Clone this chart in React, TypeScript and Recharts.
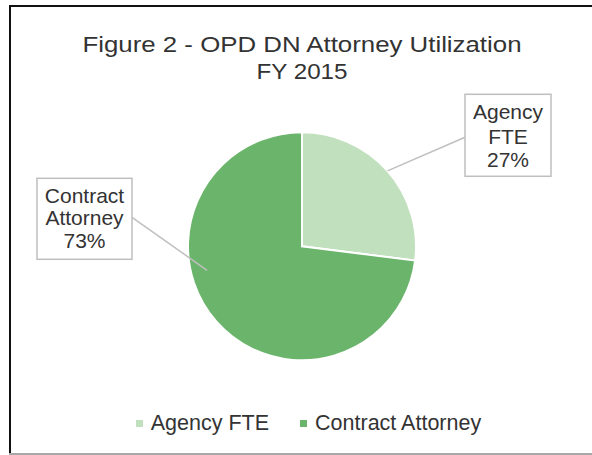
import React from 'react';
import { PieChart, Pie, Cell, Legend } from 'recharts';

const titleLines = ['Figure 2 - OPD DN Attorney Utilization', 'FY 2015'];
const categories = ['Agency FTE', 'Contract Attorney'];
const shares = [27, 73];
const colors = ['#C1E0BE', '#6BB46B'];

const data = categories.map((name, i) => ({ name, value: shares[i] }));

const FONT = '"Liberation Sans", Arial, sans-serif';
const TEXT = '#333333';
const BOX = '#BFBFBF';

// label layout, offsets relative to the pie centre
const labelLayout = [
  { box: [163, -152, 86, 82], lineTo: [163, -109], lineFrom: null as null | number[], baselines: [-127, -102, -79] },
  { box: [-265, -68, 95, 81], lineTo: [-170, -29], lineFrom: [-95, 24], baselines: [-43.6, -21, 2] },
];

const renderLabel = (props: any) => {
  const { cx, cy, midAngle, outerRadius, percent, name, index } = props;
  const L = labelLayout[index];
  const RAD = Math.PI / 180;
  const from = L.lineFrom
    ? [cx + L.lineFrom[0], cy + L.lineFrom[1]]
    : [cx + outerRadius * Math.cos(-midAngle * RAD), cy + outerRadius * Math.sin(-midAngle * RAD)];
  const lines = [...String(name).split(' '), `${Math.round(percent * 100)}%`];
  return (
    <g>
      <line x1={from[0]} y1={from[1]} x2={cx + L.lineTo[0]} y2={cy + L.lineTo[1]} stroke={BOX} strokeWidth={1.5} />
      <rect x={cx + L.box[0]} y={cy + L.box[1]} width={L.box[2]} height={L.box[3]} fill="#fff" stroke={BOX} strokeWidth={1.5} />
      {lines.map((t, i) => (
        <text key={i} x={cx + L.box[0] + L.box[2] / 2} y={cy + L.baselines[i]} textAnchor="middle" fontSize={21} fontFamily={FONT} fill={TEXT}>
          {t}
        </text>
      ))}
    </g>
  );
};

const renderLegend = () => (
  <div style={{ display: 'flex', justifyContent: 'center', alignItems: 'center', paddingLeft: 25, fontFamily: FONT, fontSize: 21.5, lineHeight: '24px', color: TEXT }}>
    {categories.map((c, i) => (
      <div key={c} style={{ display: 'flex', alignItems: 'center', marginRight: i === 0 ? 31 : 0 }}>
        <span style={{ display: 'inline-block', width: 7, height: 7, background: colors[i], marginRight: 8 }} />
        <span style={{ whiteSpace: 'nowrap' }}>{c}</span>
      </div>
    ))}
  </div>
);

export default function App() {
  return (
    <div style={{ position: 'absolute', left: 0, top: 0, width: 592, height: 455, background: '#fff', overflow: 'hidden' }}>
      <div style={{ position: 'absolute', left: 9, top: 5, width: 600, height: 2, background: '#111' }} />
      <div style={{ position: 'absolute', left: 9, top: 5, width: 2, height: 460, background: '#111' }} />
      <div style={{ position: 'absolute', left: 9, top: 453, width: 600, height: 2, background: '#A8A8A8' }} />
      <div style={{ position: 'absolute', left: 0, top: 0 }}>
        <PieChart width={592} height={455} margin={{ top: 0, right: 0, bottom: 0, left: 0 }}>
          <text x={302} y={52} textAnchor="middle" fontSize={22} fontFamily={FONT} fill={TEXT} textLength={439} lengthAdjust="spacingAndGlyphs">
            {titleLines[0]}
          </text>
          <text x={302} y={78.5} textAnchor="middle" fontSize={22} fontFamily={FONT} fill={TEXT} textLength={91} lengthAdjust="spacingAndGlyphs">
            {titleLines[1]}
          </text>
          <Pie
            data={data}
            dataKey="value"
            nameKey="name"
            cx={302}
            cy={246.3}
            outerRadius={114}
            startAngle={90}
            endAngle={-270}
            stroke="#fff"
            strokeWidth={2}
            label={renderLabel}
            labelLine={false}
            isAnimationActive={false}
          >
            {data.map((d, i) => (
              <Cell key={d.name} fill={colors[i]} />
            ))}
          </Pie>
          <Legend content={renderLegend} wrapperStyle={{ position: 'absolute', left: 0, top: 411, width: 592, bottom: 'auto' }} />
        </PieChart>
      </div>
    </div>
  );
}
